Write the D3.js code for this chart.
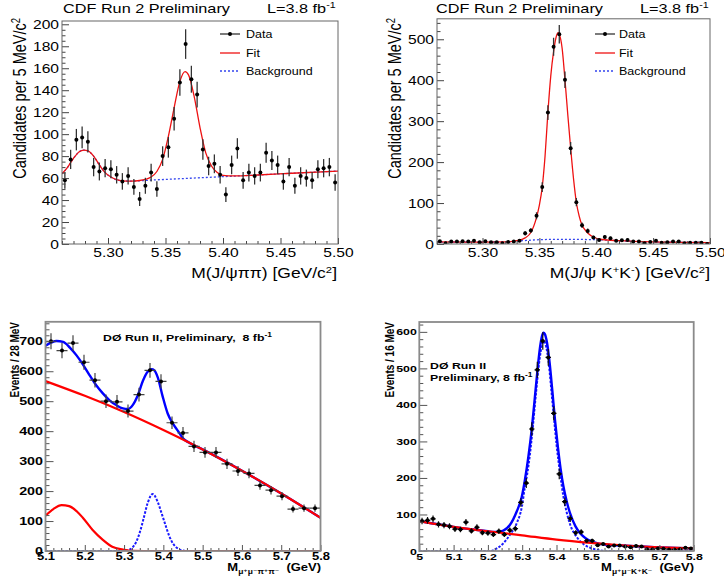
<!DOCTYPE html>
<html><head><meta charset="utf-8">
<script src="https://cdn.jsdelivr.net/npm/d3@7"></script>
<style>body{margin:0;background:#fff}</style>
</head><body>
<svg id="c" width="724" height="577"></svg>
<script>
// ---------- DATA ----------
// Panel 1: CDF J/psi pi pi (5 MeV bins from 5.26)
const binLo1 = 5.26, binW1 = 0.005;
const cdfPiPiCounts = [58,77,95,97,93,70,66,69,68,63,57,62,52,41,53,65,50,80,88,114,147,182,150,136,86,71,73,63,45,72,87,58,65,62,65,83,76,72,57,70,53,62,60,58,68,69,70,56];
const fit1X = [5.260,5.265,5.270,5.275,5.279,5.283,5.2875,5.2925,5.2975,5.3025,5.3075,5.3125,5.320,5.3275,5.3325,5.3375,5.3425,5.3475,5.3525,5.3575,5.3625,5.367,5.370,5.375,5.380,5.385,5.390,5.395,5.400,5.410,5.430,5.460,5.500];
const fit1Y = [64,70,78,84,85.5,84.5,80,72,65,61,58.5,57.5,57.3,57.8,58.8,61,66,77,98,124,148,157,154,134,106,83,71,65,62.5,62,62.8,64.4,66.4];
const bkg1X = [5.260,5.265,5.270,5.275,5.279,5.283,5.2875,5.2925,5.2975,5.3025,5.3075,5.3125,5.320,5.340,5.380,5.420,5.460,5.500];
const bkg1Y = [64,70,78,84,85.5,84.5,80,72,65,61,58.5,57.5,57.3,58.3,60.3,62.3,64.4,66.4];

// Panel 2: CDF J/psi K K (5 MeV bins from 5.26)
const binLo2 = 5.26, binW2 = 0.005;
const cdfKKCounts = [7,2,6,6,7,6,8,4,7,4,4,2,5,6,8,26,33,69,139,321,482,512,401,234,102,46,32,16,10,17,14,8,9,10,6,6,2,5,8,3,4,6,6,2,3,3,3,0];
const fit2X = [5.260,5.300,5.320,5.330,5.3375,5.3425,5.3475,5.350,5.3525,5.355,5.3575,5.360,5.3625,5.365,5.3665,5.3675,5.370,5.3725,5.375,5.3775,5.380,5.3825,5.385,5.3875,5.390,5.3925,5.3975,5.405,5.420,5.450,5.500];
const fit2Y = [5,4.5,5,8,15,28,65,95,139,215,321,410,470,508,516,512,478,401,315,234,160,102,68,46,35,27,17,11,8,5,3.5];
const bkg2X = [5.260,5.320,5.335,5.350,5.370,5.390,5.405,5.420,5.450,5.500];
const bkg2Y = [4.5,5,8,10.5,11.5,11,10,8,5,3.5];

// Panel 3: D0 mu mu pi pi (28 MeV bins from 5.1)
const binLo3 = 5.1, binW3 = 0.028;
const d0PiPiCounts = [700,669,694,630,570,500,498,467,522,603,566,428,394,349,329,329,291,267,259,219,203,183,140,143,143];
const tot3X = [5.100,5.115,5.128,5.145,5.162,5.179,5.195,5.212,5.229,5.246,5.263,5.280,5.297,5.310,5.322,5.335,5.348,5.360,5.370,5.377,5.386,5.398,5.411,5.424,5.437,5.450,5.465,5.500,5.600,5.700,5.800];
const tot3Y = [685,696,701,698,679,653,623,587,553,526,503,487,476,474,487,520,568,598,607,603,579,517,459,426,401,376,362,339,268,192,111];
const bkg3X = [5.1,5.2,5.3,5.4,5.5,5.6,5.7,5.8];
const bkg3Y = [567,518,464,404,339,268,192,111];
const refl3X = [5.100,5.120,5.141,5.160,5.180,5.195,5.220,5.246,5.270,5.297,5.322,5.350,5.800];
const refl3Y = [118,140,153,150,132,111,70,37,14,5,0.5,0,0];
const sig3X = [5.10,5.29,5.30,5.31,5.32,5.33,5.34,5.35,5.36,5.373,5.385,5.395,5.405,5.415,5.425,5.435,5.445,5.46,5.80];
const sig3Y = [0,0,1,3,10,28,62,110,160,190,166,128,88,50,24,10,3,0,0];

// Panel 4: D0 mu mu K K (16 MeV bins from 5.0)
const binLo4 = 5.0, binW4 = 0.016;
const d0KKCounts = [82,84,88,73,71,68,60,59,79,55,65,50,49,45,54,45,57,61,133,186,334,496,575,530,377,211,135,89,50,52,28,28,16,19,12,15,15,12,10,14,12,5,5,7,6,4,4,5,9,7];
const tot4X = [5.0,5.1,5.2,5.217,5.23,5.245,5.264,5.284,5.299,5.308,5.318,5.328,5.336,5.344,5.352,5.358,5.362,5.366,5.372,5.380,5.388,5.396,5.404,5.412,5.420,5.430,5.440,5.455,5.470,5.485,5.500,5.520,5.560,5.600,5.700,5.800];
const tot4Y = [82,66,54,52,53,56,71,108,149,195,258,335,412,490,558,590,598,594,572,515,437,355,285,225,178,135,102,68,47,35,27,21,16,14.5,10,7];
const bkg4X = [5.0,5.1,5.2,5.3,5.4,5.5,5.6,5.7,5.8];
const bkg4Y = [82,66,54,43,31,22,15,10,7];
const sig4X = [5.0,5.206,5.226,5.245,5.264,5.284,5.299,5.308,5.315,5.323,5.330,5.340,5.350,5.358,5.363,5.368,5.376,5.386,5.394,5.400,5.410,5.420,5.430,5.440,5.460,5.480,5.500,5.520,5.550,5.800];
const sig4Y = [0,0,7,21,44,76,121,176,213,268,330,430,520,565,575,566,525,430,350,292,215,150,105,72,37,18,8,3,0,0];

// Tick values
const xMajTop = [5.30,5.35,5.40,5.45,5.50];
const yMaj1 = [0,20,40,60,80,100,120,140,160,180,200];
const yMaj2 = [0,100,200,300,400,500];
const xMaj3 = [5.1,5.2,5.3,5.4,5.5,5.6,5.7,5.8];
const yMaj3 = [0,100,200,300,400,500,600,700];
const xMaj4 = [5.0,5.1,5.2,5.3,5.4,5.5,5.6,5.7,5.8];
const yMaj4 = [0,100,200,300,400,500,600];

// ---------- DRAWING ----------
const FONT = "'Liberation Sans', Arial, Helvetica, 'DejaVu Sans', sans-serif";
const SXT = 1.25, SXB = 1.3;
const svg = d3.select("#c");
svg.append("rect").attr("width",724).attr("height",577).attr("fill","#fff");

function addText(g, x, y, parts, o) {
  const t = g.append("text")
    .attr("transform", `translate(${x},${y}) scale(${o.sx},1)` + (o.rot ? ` rotate(${o.rot})` : ""))
    .attr("text-anchor", o.anchor || "start")
    .attr("font-family", FONT).attr("font-size", o.size)
    .attr("font-weight", o.weight || "normal").attr("fill", "#000")
    .style("white-space", "pre");
  parts.forEach(p => {
    if (typeof p === "string") t.append("tspan").text(p);
    else {
      const s = t.append("tspan").text(p.t);
      if (p.size) s.attr("font-size", p.size);
      if (p.dy) s.attr("dy", p.dy);
    }
  });
  return t;
}

function minorVals(lo, hi, step, majors) {
  const out = [];
  const n = Math.round((hi - lo) / step);
  for (let i = 0; i <= n; i++) {
    const v = lo + i * step;
    if (!majors.some(m => Math.abs(m - v) < step * 0.1)) out.push(v);
  }
  return out;
}

let clipId = 0;
function makePanel(c) {
  const x = d3.scaleLinear().domain(c.xd).range(c.xr);
  const y = d3.scaleLinear().domain(c.yd).range(c.yr);
  const g = svg.append("g");
  const id = "clip" + (clipId++);
  svg.append("clipPath").attr("id", id).append("rect")
    .attr("x", c.xr[0]).attr("y", c.yr[1]).attr("width", c.xr[1]-c.xr[0]).attr("height", c.yr[0]-c.yr[1]);
  const plot = g.append("g").attr("clip-path", `url(#${id})`);

  const ax = (gen, vals, len, pad, fmt, transform, labSize) => {
    const a = g.append("g").attr("transform", transform)
      .call(gen.tickValues(vals).tickSizeInner(-len).tickSizeOuter(0).tickPadding(pad).tickFormat(fmt));
    a.select(".domain").remove();
    a.selectAll("line").attr("stroke", c.tickColor).attr("stroke-width", c.tickW);
    a.selectAll("text").attr("transform", `scale(${c.sx},1)`).attr("font-size", labSize)
      .attr("font-family", FONT).attr("font-weight", c.weight).attr("fill", "#000");
    return a;
  };
  const empty = () => "";
  ax(d3.axisBottom(x), c.xMaj, c.xMajLen, c.xPad, c.xFmt, `translate(0,${c.yr[0]})`, c.xLab);
  ax(d3.axisBottom(x), c.xMin, c.xMinLen, 0, empty, `translate(0,${c.yr[0]})`, c.xLab);
  ax(d3.axisLeft(y), c.yMaj, c.yMajLen, c.yPad, d3.format("d"), `translate(${c.xr[0]},0)`, c.yLab);
  ax(d3.axisLeft(y), c.yMin, c.yMinLen, 0, empty, `translate(${c.xr[0]},0)`, c.yLab);

  return {x, y, g, plot};
}

function curve(p, X, Y, style) {
  const line = d3.line().x(d => p.x(d[0])).y(d => p.y(d[1])).curve(style.curve || d3.curveMonotoneX);
  p.plot.append("path").datum(d3.zip(X, Y)).attr("d", line).attr("fill", "none")
    .attr("stroke", style.color).attr("stroke-width", style.w)
    .attr("stroke-dasharray", style.dash || null);
}

function points(p, lo, w, counts, st) {
  const gg = p.plot.append("g");
  counts.forEach((v, i) => {
    const xc = lo + w * (i + 0.5);
    const e = Math.sqrt(v);
    gg.append("line").attr("x1", p.x(xc)).attr("x2", p.x(xc))
      .attr("y1", p.y(v - e)).attr("y2", p.y(v + e))
      .attr("stroke", st.ebColor).attr("stroke-width", st.ebW);
    if (st.xerr) {
      gg.append("line").attr("x1", p.x(xc - w/2)).attr("x2", p.x(xc + w/2))
        .attr("y1", p.y(v)).attr("y2", p.y(v))
        .attr("stroke", st.ebColor).attr("stroke-width", st.ebW);
    }
    gg.append("circle").attr("cx", p.x(xc)).attr("cy", p.y(v)).attr("r", st.r).attr("fill", "#000");
  });
}

function frame(p, c) {
  p.g.append("rect").attr("x", c.xr[0]).attr("y", c.yr[1])
    .attr("width", c.xr[1]-c.xr[0]).attr("height", c.yr[0]-c.yr[1])
    .attr("fill", "none").attr("stroke", c.frameColor).attr("stroke-width", c.frameW);
}

// ---- top panels (CDF) ----
const topCommon = {
  sx: SXT, weight: "normal", tickColor: "#444", tickW: 1,
  xMajLen: 6, xMinLen: 3, yMajLen: 7, yMinLen: 3.5, xPad: 4.6, yPad: 2.4,
  xLab: 12.5, yLab: 12.5, xFmt: d3.format(".2f"), frameColor: "#666", frameW: 1,
  xMaj: xMajTop, xMin: minorVals(5.26, 5.50, 0.01, xMajTop)
};
const c1 = Object.assign({}, topCommon, {xd:[5.26,5.50], xr:[62,338], yd:[0,203], yr:[244,21],
  yMaj: yMaj1, yMin: minorVals(0, 200, 5, yMaj1)});
const c2 = Object.assign({}, topCommon, {xd:[5.26,5.50], xr:[437,710], yd:[0,550], yr:[244,18.8],
  yMaj: yMaj2, yMin: minorVals(0, 540, 20, yMaj2)});

const p1 = makePanel(c1);
curve(p1, bkg1X, bkg1Y, {color:"#3344ee", w:1.3, dash:"2,2"});
curve(p1, fit1X, fit1Y, {color:"#ee1111", w:1.3});
points(p1, binLo1, binW1, cdfPiPiCounts, {ebColor:"#333", ebW:1.3, r:2});
frame(p1, c1);

const p2 = makePanel(c2);
curve(p2, bkg2X, bkg2Y, {color:"#3344ee", w:1.3, dash:"2,2"});
curve(p2, fit2X, fit2Y, {color:"#ee1111", w:1.3});
points(p2, binLo2, binW2, cdfKKCounts, {ebColor:"#333", ebW:1.3, r:2});
frame(p2, c2);

function legendTop(x0, tx) {
  svg.append("line").attr("x1", x0).attr("x2", x0+20).attr("y1", 34).attr("y2", 34).attr("stroke", "#333").attr("stroke-width", 1.3);
  svg.append("circle").attr("cx", x0+10).attr("cy", 34).attr("r", 2).attr("fill", "#000");
  svg.append("line").attr("x1", x0).attr("x2", x0+20).attr("y1", 53).attr("y2", 53).attr("stroke", "#ee1111").attr("stroke-width", 1.3);
  svg.append("line").attr("x1", x0).attr("x2", x0+20).attr("y1", 71).attr("y2", 71).attr("stroke", "#3344ee").attr("stroke-width", 1.3).attr("stroke-dasharray", "2,2");
  addText(svg, tx, 37.5, ["Data"], {sx:SXT, size:10});
  addText(svg, tx, 56.5, ["Fit"], {sx:SXT, size:10});
  addText(svg, tx, 74.5, ["Background"], {sx:SXT, size:10});
}
legendTop(220, 246);
legendTop(595, 619);

addText(svg, 63, 13, ["CDF Run 2 Preliminary"], {sx:SXT, size:13});
addText(svg, 267, 13, ["L=3.8 fb", {t:"-1", size:8.5, dy:-5}], {sx:SXT, size:13});
addText(svg, 436, 13, ["CDF Run 2 Preliminary"], {sx:SXT, size:13});
addText(svg, 640, 13, ["L=3.8 fb", {t:"-1", size:8.5, dy:-5}], {sx:SXT, size:13});
addText(svg, 26, 18, ["Candidates per 5 MeV/c", {t:"2", size:9.5, dy:-5}], {sx:SXT, size:14.5, anchor:"end", rot:-90});
addText(svg, 401, 18, ["Candidates per 5 MeV/c", {t:"2", size:9.5, dy:-5}], {sx:SXT, size:14.5, anchor:"end", rot:-90});
addText(svg, 337, 277.5, ["M(J/ψππ) [GeV/c", {t:"2", size:9, dy:-5}, {t:"]", dy:5}], {sx:SXT, size:14, anchor:"end"});
addText(svg, 710, 277.5, ["M(J/ψ K", {t:"+", size:9, dy:-5}, {t:"K", dy:5}, {t:"-", size:9, dy:-5}, {t:") [GeV/c", dy:5}, {t:"2", size:9, dy:-5}, {t:"]", dy:5}], {sx:SXT, size:14, anchor:"end"});

// ---- bottom panels (D0) ----
const botCommon = {
  sx: SXB, weight: "bold", tickColor: "#555", tickW: 1,
  xMajLen: 6, xMinLen: 3, yMajLen: 8, yMinLen: 4, xPad: 2, yPad: 1.9,
  frameColor: "#8a8a8a", frameW: 1.8
};
const c3 = Object.assign({}, botCommon, {xd:[5.1,5.8], xr:[45.5,320.5], yd:[0,765], yr:[551,321.8],
  xLab: 10, yLab: 11,
  xMaj: xMaj3, xMin: minorVals(5.1, 5.8, 0.02, xMaj3), xFmt: d3.format(".1f"),
  yMaj: yMaj3, yMin: minorVals(0, 760, 20, yMaj3)});
const c4 = Object.assign({}, botCommon, {xd:[5.0,5.8], xr:[419.3,693.7], yd:[0,627], yr:[551,322],
  xLab: 9.5, yLab: 9.5,
  xMaj: xMaj4, xMin: minorVals(5.0, 5.8, 0.02, xMaj4), xFmt: d => d === 5 ? "5" : d3.format(".1f")(d),
  yMaj: yMaj4, yMin: minorVals(0, 620, 20, yMaj4)});

const p3 = makePanel(c3);
curve(p3, sig3X, sig3Y, {color:"#1a1aff", w:2, dash:"2.5,1.5"});
curve(p3, refl3X, refl3Y, {color:"#ff0000", w:2.2});
curve(p3, tot3X, tot3Y, {color:"#0000ff", w:2.4});
curve(p3, bkg3X, bkg3Y, {color:"#ff0000", w:2.2, curve: d3.curveNatural});
points(p3, binLo3, binW3, d0PiPiCounts, {ebColor:"#444", ebW:1.2, r:2, xerr:true});
frame(p3, c3);

const p4 = makePanel(c4);
curve(p4, sig4X, sig4Y, {color:"#1a1aff", w:2, dash:"2.5,1.5"});
curve(p4, tot4X, tot4Y, {color:"#0000ff", w:2.4});
curve(p4, bkg4X, bkg4Y, {color:"#ff0000", w:2.2, curve: d3.curveNatural});
points(p4, binLo4, binW4, d0KKCounts, {ebColor:"#111", ebW:1.2, r:2, xerr:true});
frame(p4, c4);

addText(svg, 103, 340.7, ["DØ Run II, Preliminary,  8 fb", {t:"-1", size:6.5, dy:-4}], {sx:SXB, size:9.5, weight:"bold"});
addText(svg, 430, 369.3, ["DØ Run II"], {sx:SXB, size:9.5, weight:"bold"});
addText(svg, 430, 380.7, ["Preliminary, 8 fb", {t:"-1", size:6.5, dy:-4}], {sx:SXB, size:9.5, weight:"bold"});
addText(svg, 19, 322, ["Events / 28 MeV"], {sx:SXB, size:10, weight:"bold", anchor:"end", rot:-90});
addText(svg, 394, 322, ["Events / 16 MeV"], {sx:SXB, size:10, weight:"bold", anchor:"end", rot:-90});
addText(svg, 321, 571, ["M", {t:"μ⁺μ⁻π⁺π⁻", size:6.5, dy:2.5}, {t:"  (GeV)", dy:-2.5}], {sx:SXB, size:10, weight:"bold", anchor:"end"});
addText(svg, 694, 571, ["M", {t:"μ⁺μ⁻K⁺K⁻", size:6.5, dy:2.5}, {t:"  (GeV)", dy:-2.5}], {sx:SXB, size:10, weight:"bold", anchor:"end"});
</script>
</body></html>
